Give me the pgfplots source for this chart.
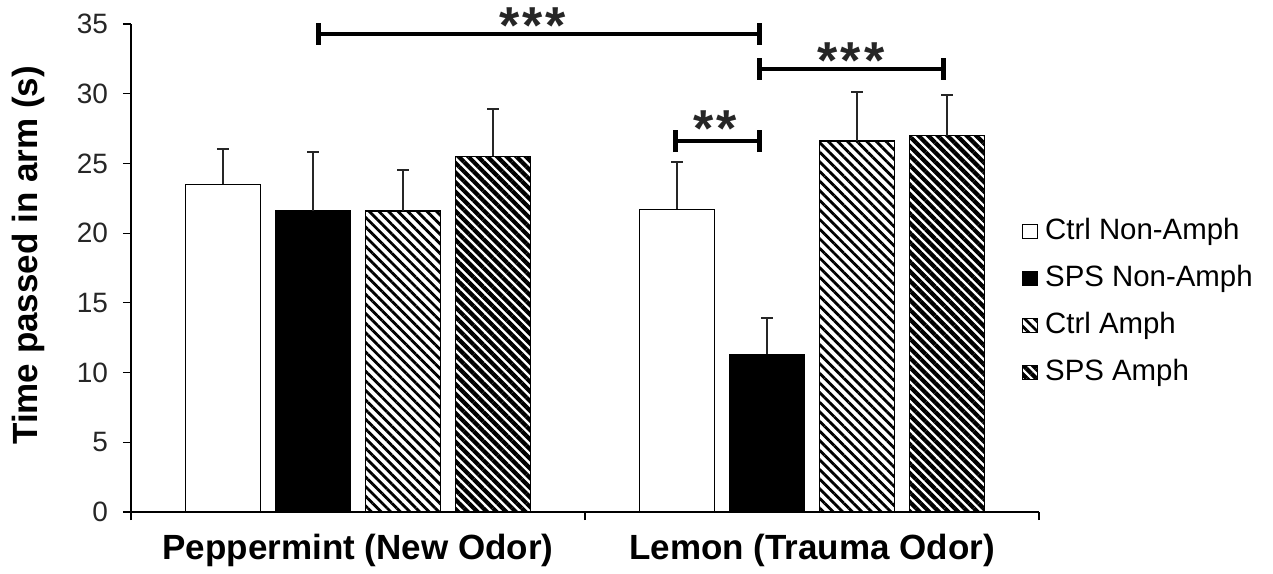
\documentclass[border=0pt]{standalone}
\usepackage{pgfplots}
\pgfplotsset{compat=1.18}
\usepackage{pgfplotstable}
\usetikzlibrary{patterns.meta}
\usepackage{fontspec}
\setmainfont{Liberation Sans}

\pgfplotstableread{
x y err
0 23.5 2.5
1 21.7 3.4
}\ctrlnon
\pgfplotstableread{
x y err
0 21.6 4.2
1 11.3 2.6
}\spsnon
\pgfplotstableread{
x y err
0 21.6 2.9
1 26.6 3.5
}\ctrlamph
\pgfplotstableread{
x y err
0 25.5 3.4
1 27.0 2.9
}\spsamph

\begin{document}
\begin{tikzpicture}
\path[use as bounding box] (-65.5pt,-30.5pt) rectangle (571pt,256pt);
\begin{axis}[
  at={(0,0)}, anchor=south west,
  scale only axis, width=454pt, height=244pt,
  xmin=-0.5, xmax=1.5, ymin=0, ymax=35,
  axis x line=bottom, axis y line=left,
  axis line style={-, line width=0.7pt, black},
  tick align=outside, major tick length=4pt,
  tick style={line width=0.6pt, black},
  ytick={0,5,...,35},
  /pgf/number format/assume math mode=true,
  yticklabel style={font=\fontsize{14}{16}\selectfont, color=black!85, xshift=-4pt},
  xtick={-0.5,0.5,1.5},
  x tick label as interval,
  xticklabels={Peppermint (New Odor), Lemon (Trauma Odor)},
  xticklabel style={font=\fontsize{17.5}{20}\selectfont\bfseries, yshift=-3.5pt},
  ylabel={Time passed in arm (s)},
  every axis y label/.style={at={(rel axis cs:-0.1134,0.526)}, rotate=90, anchor=center,
    font=\fontsize{17.5}{20}\selectfont\bfseries},
  ybar, bar width=37.5pt,
  error bars/error bar style={line width=0.8pt, black!85},
  error bars/error mark options={rotate=90, mark size=3pt, line width=1pt, black!85},
  legend style={at={(rel axis cs:0.981,0.605)}, anchor=north west, draw=none, fill=none,
    inner sep=0pt, font=\fontsize{14.7}{16}\selectfont, row sep=9.5pt,
    nodes={inner xsep=3.5pt, inner ysep=0pt, text height=11pt, text depth=3pt}},
  legend cell align=left,
  legend image code/.code={\draw[#1, line width=0.5pt] (0pt,-3.5pt) rectangle (7.5pt,3.5pt);},
  clip=false,
]
\addplot[draw=black, line width=0.7pt, fill=white, bar shift=-67.5pt,
  error bars/.cd, y dir=plus, y explicit]
  table[x=x, y=y, y error=err] {\ctrlnon};
\addlegendentry{Ctrl Non-Amph}
\addplot[draw=black, line width=0.7pt, fill=black, bar shift=-22.5pt,
  error bars/.cd, y dir=plus, y explicit]
  table[x=x, y=y, y error=err] {\spsnon};
\addlegendentry{SPS Non-Amph}
\addplot[draw=black, line width=0.7pt, pattern={Lines[angle=-45, distance=3.4pt, line width=1.4pt]}, bar shift=22.5pt,
  error bars/.cd, y dir=plus, y explicit]
  table[x=x, y=y, y error=err] {\ctrlamph};
\addlegendentry{Ctrl Amph}
\addplot[draw=black, line width=0.7pt, pattern={Lines[angle=-45, distance=3.4pt, line width=2.1pt]}, bar shift=67.5pt,
  error bars/.cd, y dir=plus, y explicit]
  table[x=x, y=y, y error=err] {\spsamph};
\addlegendentry{SPS Amph}

% significance brackets
\draw[line width=2pt] (axis cs:-0.088,34.3) -- (axis cs:0.885,34.3);
\draw[line width=2.5pt] ([yshift=-5.5pt]axis cs:-0.088,34.3) -- ([yshift=5.5pt]axis cs:-0.088,34.3);
\draw[line width=2.5pt] ([yshift=-5.5pt]axis cs:0.885,34.3) -- ([yshift=5.5pt]axis cs:0.885,34.3);
\draw[line width=2pt] (axis cs:0.885,31.8) -- (axis cs:1.289,31.8);
\draw[line width=2.5pt] ([yshift=-5.5pt]axis cs:0.885,31.8) -- ([yshift=5.5pt]axis cs:0.885,31.8);
\draw[line width=2.5pt] ([yshift=-5.5pt]axis cs:1.289,31.8) -- ([yshift=5.5pt]axis cs:1.289,31.8);
\draw[line width=2pt] (axis cs:0.700,26.6) -- (axis cs:0.885,26.6);
\draw[line width=2.5pt] ([yshift=-5.5pt]axis cs:0.700,26.6) -- ([yshift=5.5pt]axis cs:0.700,26.6);
\draw[line width=2.5pt] ([yshift=-5.5pt]axis cs:0.885,26.6) -- ([yshift=5.5pt]axis cs:0.885,26.6);
\node[font=\fontsize{26}{28}\selectfont\bfseries, anchor=base, inner sep=0pt, text=black!85] at (axis cs:0.385,33.6) {*\kern1.5pt*\kern1.5pt*};
\node[font=\fontsize{26}{28}\selectfont\bfseries, anchor=base, inner sep=0pt, text=black!85] at (axis cs:1.086,31.1) {*\kern1.5pt*\kern1.5pt*};
\node[font=\fontsize{26}{28}\selectfont\bfseries, anchor=base, inner sep=0pt, text=black!85] at (axis cs:0.786,26.2) {*\kern1.5pt*};
\end{axis}
\end{tikzpicture}
\end{document}
